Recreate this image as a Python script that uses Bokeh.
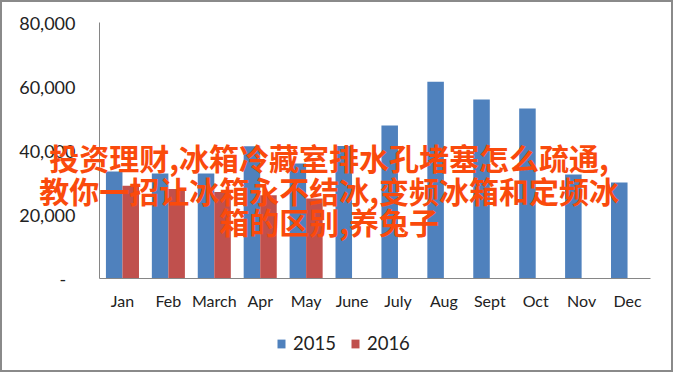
from bokeh.plotting import figure
from bokeh.models import (Range1d, FixedTicker, NumeralTickFormatter,
                          Legend, LegendItem, Label, ColumnDataSource)
from bokeh.embed import file_html
from bokeh.resources import INLINE

months = ["Jan", "Feb", "March", "Apr", "May", "June", "July", "Aug", "Sept", "Oct", "Nov", "Dec"]
sales_2015 = [33400, 32800, 32800, 41300, 35900, 41400, 47800, 61500, 55900, 53100, 32500, 30000]
months_2016 = ["Jan", "Feb", "March", "Apr", "May"]
sales_2016 = [29000, 28000, 27000, 26000, 25000]
y_ticks = [0, 20000, 40000, 60000, 80000]
overlay_lines = ["投资理财,冰箱冷藏室排水孔堵塞怎么疏通,",
                 "教你一招让冰箱永不结冰,变频冰箱和定频冰",
                 "箱的区别,养兔子"]

BLUE = "#4F81BD"
RED = "#C0504D"
AXIS = "#868686"
FONT = "Lato"

# layout (pixels)
W, H = 669, 368          # canvas == frame
PLOT_L, PLOT_R = 97, 21  # space left/right of the category area
PLOT_T, PLOT_H = 20, 256 # space above the value area, value-area height
PLOT_W = W - PLOT_L - PLOT_R
n = len(months)
ux = PLOT_W / n
uy = 80000 / PLOT_H
x_start = -0.5 - PLOT_L / ux
x_end = n - 0.5 + PLOT_R / ux
y_end = 80000 + PLOT_T * uy
y_start = 80000 - (H - PLOT_T) * uy

idx = {m: i for i, m in enumerate(months)}
src15 = ColumnDataSource(dict(x=[idx[m] - 0.18 for m in months], value=sales_2015))
src16 = ColumnDataSource(dict(x=[idx[m] + 0.18 for m in months_2016], value=sales_2016))

p = figure(x_range=Range1d(x_start, x_end), y_range=Range1d(y_start, y_end),
           frame_width=W, frame_height=H, min_border=0,
           output_backend="svg", toolbar_location=None,
           background_fill_color=None, border_fill_color=None)
p.styles = {"border": "2px solid #8a8a8a", "background-color": "white"}

r1 = p.vbar(x="x", top="value", bottom=0, width=0.36, source=src15, color=BLUE, line_color=None)
r2 = p.vbar(x="x", top="value", bottom=0, width=0.36, source=src16, color=RED, line_color=None)

p.outline_line_color = None
p.xgrid.grid_line_color = None
p.ygrid.grid_line_color = None

p.xaxis.fixed_location = 0
p.xaxis.bounds = (-0.5, n - 0.5)
p.xaxis.ticker = FixedTicker(ticks=list(range(n)))
p.xaxis.major_label_overrides = {i: m for i, m in enumerate(months)}
p.xaxis.axis_line_color = AXIS
p.xaxis.major_tick_line_color = None
p.xaxis.minor_tick_line_color = None
p.xaxis.major_tick_out = 0
p.xaxis.major_tick_in = 0
p.xaxis.major_label_standoff = 12
p.xaxis.major_label_text_font = FONT
p.xaxis.major_label_text_font_size = "16px"
p.xaxis.major_label_text_color = "#222222"

p.yaxis.fixed_location = -0.5
p.yaxis.bounds = (0, 80000)
p.yaxis.axis_line_color = AXIS
p.yaxis.major_tick_line_color = None
p.yaxis.minor_tick_line_color = None
p.yaxis.major_tick_out = 0
p.yaxis.major_tick_in = 0
p.yaxis.ticker = FixedTicker(ticks=y_ticks)
p.yaxis.formatter = NumeralTickFormatter(format="0,0")
p.yaxis.major_label_overrides = {0: "-\u00a0\u00a0"}
p.yaxis.major_label_standoff = 24
p.yaxis.major_label_text_font = FONT
p.yaxis.major_label_text_font_size = "18px"
p.yaxis.major_label_text_color = "#222222"

legend = Legend(items=[LegendItem(label="2015", renderers=[r1]),
                       LegendItem(label="2016", renderers=[r2])],
                orientation="horizontal", location=(274, 16), margin=0, padding=4,
                glyph_width=10, glyph_height=11, label_standoff=7, spacing=14,
                label_text_font=FONT, label_text_font_size="18.5px",
                label_text_color="#222222",
                border_line_color=None, background_fill_alpha=0)
p.add_layout(legend)

ys = [38100, 27800, 17900]
for line, yv in zip(overlay_lines, ys):
    p.add_layout(Label(x=4.5, y=yv, text=line, text_align="center", text_baseline="middle",
                       text_font="Noto Sans CJK SC", text_font_style="bold",
                       text_font_size="30px", text_color="#FA4A0C", level="overlay"))

open("out.html", "w").write(file_html(p, INLINE))
